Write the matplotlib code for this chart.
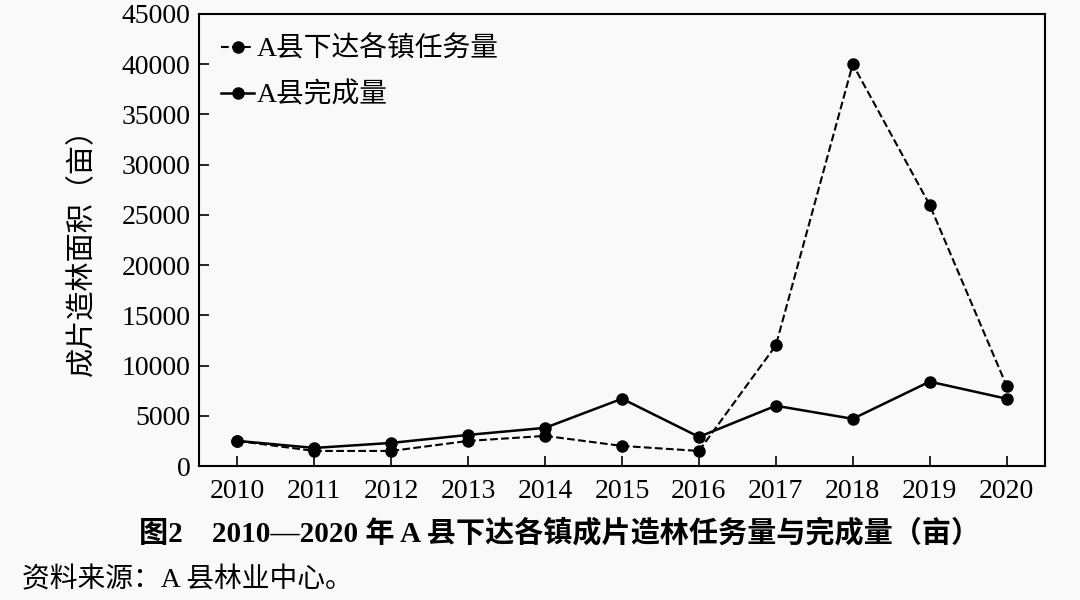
import matplotlib.pyplot as plt

plt.rcParams['font.family'] = ['Liberation Serif', 'Noto Sans CJK SC']

years = [2010, 2011, 2012, 2013, 2014, 2015, 2016, 2017, 2018, 2019, 2020]
task = [2500, 1500, 1500, 2500, 3000, 2000, 1500, 12000, 40000, 26000, 8000]
done = [2500, 1800, 2300, 3100, 3800, 6700, 2900, 6000, 4700, 8400, 6700]

cjk = ['Noto Sans CJK SC', 'DejaVu Sans']
mixed = ['Liberation Serif', 'Noto Sans CJK SC']
bg = '#f9f9f9'

fig = plt.figure(figsize=(10.8, 6), dpi=100, facecolor=bg)
ax = fig.add_axes([0.1843, 0.2233, 0.7833, 0.7534], facecolor=bg)

ax.plot(years, task, '--', color='black', lw=1.5, marker='o', ms=8,
        label='A县下达各镇任务量')
ax.plot(years, done, '-', color='black', lw=1.8, marker='o', ms=8,
        label='A县完成量')

ax.set_xlim(2009.5, 2020.5)
ax.set_ylim(0, 45000)
ax.set_xticks(years)
ax.set_yticks(range(0, 45001, 5000))
ax.tick_params(direction='in', length=7, width=1.2, labelsize=20,
               top=False, right=False)
ax.tick_params(axis='x', pad=9)
ax.tick_params(axis='y', pad=6)
for s in ax.spines.values():
    s.set_linewidth(1.5)

ax.set_ylabel('成片造林面积（亩）', family=cjk, fontsize=21)
ax.yaxis.set_label_coords(-0.12, 0.49)

leg = ax.legend(loc='upper left', frameon=False, prop={'family': mixed, 'size': 20},
                handlelength=1.2, handletextpad=0.1, labelspacing=0.7,
                borderaxespad=0.3, bbox_to_anchor=(0.003, 0.993))

fig.text(0.518, 0.112, '图2　2010—2020 年 A 县下达各镇成片造林任务量与完成量（亩）',
         family=mixed, fontsize=21, fontweight='bold', ha='center', va='center')
fig.text(0.02, 0.033, '资料来源：A 县林业中心。', family=mixed, fontsize=20,
         ha='left', va='center')

fig.savefig('out.png', dpi=100, facecolor=bg)
